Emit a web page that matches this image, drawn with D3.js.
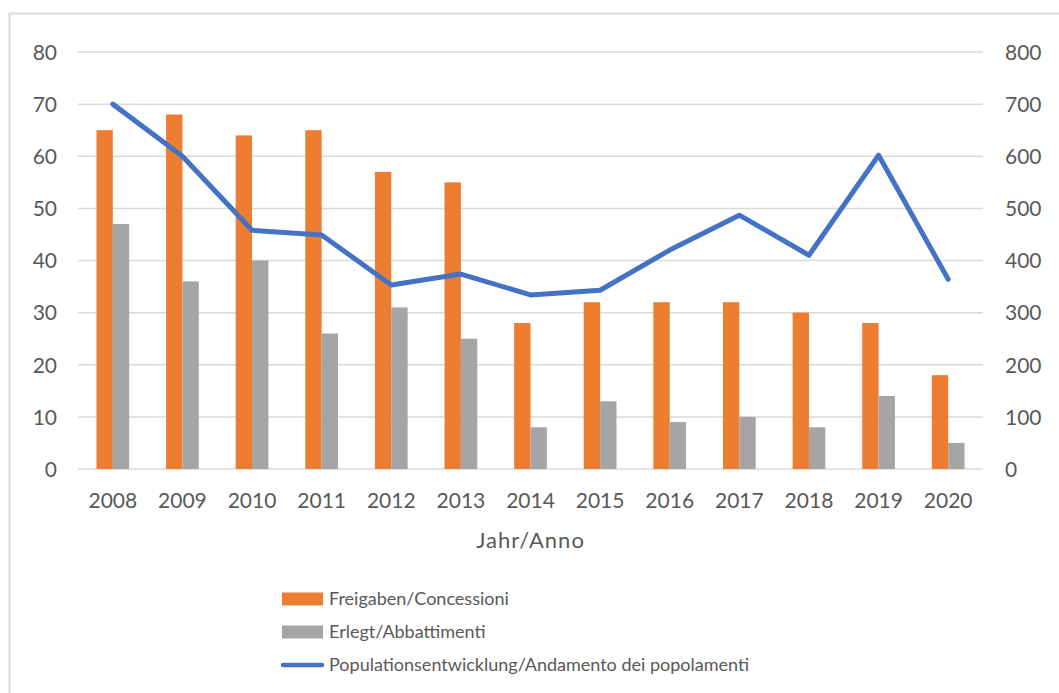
<!DOCTYPE html>
<html>
<head>
<meta charset="utf-8">
<script src="https://cdn.jsdelivr.net/npm/d3@7"></script>
<style>
  body { margin: 0; background: #fff; }
  text { font-family: Lato, "Open Sans", sans-serif; fill: #595959; }
</style>
</head>
<body>
<script>
// chart data
var years = ["2008","2009","2010","2011","2012","2013","2014","2015","2016","2017","2018","2019","2020"];
var freigaben = [65, 68, 64, 65, 57, 55, 28, 32, 32, 32, 30, 28, 18];
var erlegt = [47, 36, 40, 26, 31, 25, 8, 13, 9, 10, 8, 14, 5];
var population = [700, 600, 458, 449, 353, 374, 334, 343, 420, 487, 410, 602, 364];
var leftTicks = [0, 10, 20, 30, 40, 50, 60, 70, 80];
var rightTicks = [0, 100, 200, 300, 400, 500, 600, 700, 800];

var w = 1059, h = 693;
var margin = {top: 52, right: 76, bottom: 224, left: 78};

var svg = d3.select("body").append("svg")
    .attr("width", w)
    .attr("height", h);

// outer frame (only left and top visible)
svg.append("rect")
  .attr("x", 9.5).attr("y", 13.5)
  .attr("width", 1100).attr("height", 1000)
  .attr("fill", "none")
  .attr("stroke", "#d9d9d9")
  .attr("stroke-width", 2);

var x = d3.scaleBand()
    .domain(years)
    .range([margin.left, w - margin.right])
    .padding(0);

var yL = d3.scaleLinear().domain([0, 80]).range([h - margin.bottom, margin.top]);
var yR = d3.scaleLinear().domain([0, 800]).range([h - margin.bottom, margin.top]);

// gridlines
svg.append("g").selectAll("line")
  .data(leftTicks)
  .enter().append("line")
  .attr("x1", margin.left).attr("x2", w - margin.right)
  .attr("y1", function(d) { return yL(d); })
  .attr("y2", function(d) { return yL(d); })
  .attr("stroke", "#d9d9d9")
  .attr("stroke-width", 1.5);

// left axis
var axL = svg.append("g")
  .attr("transform", "translate(" + (margin.left - 21) + ",0)")
  .call(d3.axisLeft(yL).tickValues(leftTicks).tickSize(0).tickPadding(0));
axL.select(".domain").remove();
axL.selectAll("text").style("font-size", "21px").attr("dy", "0.35em");

// right axis
var axR = svg.append("g")
  .attr("transform", "translate(" + (w - margin.right + 22) + ",0)")
  .call(d3.axisRight(yR).tickValues(rightTicks).tickSize(0).tickPadding(0));
axR.select(".domain").remove();
axR.selectAll("text").style("font-size", "21px").attr("dy", "0.35em");

// bottom axis labels
var axB = svg.append("g")
  .attr("transform", "translate(0," + (h - margin.bottom) + ")")
  .call(d3.axisBottom(x).tickSize(0).tickPadding(24));
axB.select(".domain").remove();
axB.selectAll("text").style("font-size", "21px");

svg.append("text")
  .attr("x", (margin.left + w - margin.right) / 2)
  .attr("y", 548)
  .attr("text-anchor", "middle")
  .style("font-size", "22px")
  .style("letter-spacing", "1px")
  .text("Jahr/Anno");

// bars
var bw = x.bandwidth() * 0.235;

svg.append("g").selectAll("rect")
  .data(freigaben)
  .enter().append("rect")
  .attr("x", function(d, i) { return x(years[i]) + x.bandwidth() / 2 - bw; })
  .attr("y", function(d) { return yL(d); })
  .attr("width", bw)
  .attr("height", function(d) { return yL(0) - yL(d); })
  .attr("fill", "#ed7d31");

svg.append("g").selectAll("rect")
  .data(erlegt)
  .enter().append("rect")
  .attr("x", function(d, i) { return x(years[i]) + x.bandwidth() / 2; })
  .attr("y", function(d) { return yL(d); })
  .attr("width", bw)
  .attr("height", function(d) { return yL(0) - yL(d); })
  .attr("fill", "#a5a5a5");

// population line
var line = d3.line()
  .x(function(d, i) { return x(years[i]) + x.bandwidth() / 2; })
  .y(function(d) { return yR(d); });

svg.append("path")
  .datum(population)
  .attr("d", line)
  .attr("fill", "none")
  .attr("stroke", "#4472c4")
  .attr("stroke-width", 5)
  .attr("stroke-linejoin", "round")
  .attr("stroke-linecap", "round");

// legend
var legend = svg.append("g");
var legendItems = [
  {name: "Freigaben/Concessioni", color: "#ed7d31", type: "rect"},
  {name: "Erlegt/Abbattimenti", color: "#a5a5a5", type: "rect"},
  {name: "Populationsentwicklung/Andamento dei popolamenti", color: "#4472c4", type: "line"}
];
legendItems.forEach(function(item, i) {
  var cy = 599 + i * 33;
  if (item.type == "rect") {
    legend.append("rect")
      .attr("x", 282).attr("y", cy - 6.5)
      .attr("width", 41).attr("height", 13)
      .attr("fill", item.color);
  } else {
    legend.append("line")
      .attr("x1", 283).attr("x2", 322)
      .attr("y1", cy).attr("y2", cy)
      .attr("stroke", item.color)
      .attr("stroke-width", 4.5)
      .attr("stroke-linecap", "round");
  }
  legend.append("text")
    .attr("x", 329).attr("y", cy)
    .attr("dy", "0.35em")
    .style("font-size", "18px")
    .text(item.name);
});
</script>
</body>
</html>
